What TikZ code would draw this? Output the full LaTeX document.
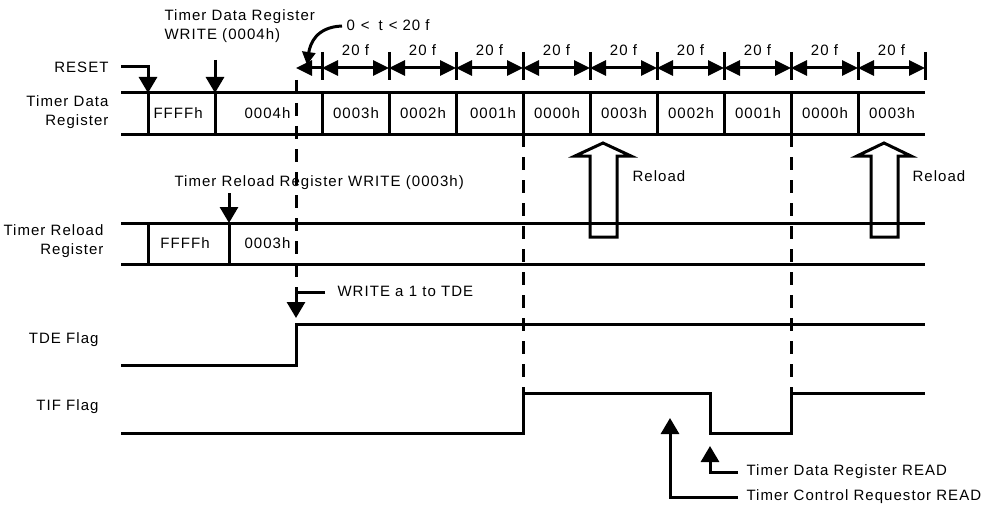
\documentclass[tikz,border=0pt]{standalone}
\usepackage{fontspec}
\setmainfont{Liberation Sans}[LetterSpace=7]
\usetikzlibrary{arrows.meta}
\begin{document}
\begin{tikzpicture}[x=1pt,y=-1pt,line width=3pt,
  lbl/.style={font=\fontsize{15pt}{19pt}\selectfont,inner sep=0pt},
  dimarrow/.style={{Triangle[length=16pt,width=15pt]}-{Triangle[length=16pt,width=15pt]}},
  evarrow/.style={-{Triangle[length=16pt,width=18pt]}},
  guide/.style={dash pattern=on 13pt off 10pt}]
\useasboundingbox (0,0) rectangle (987,508);

% ---------- labels on the left ----------
\node[lbl,anchor=east] (reset) at (110,67) {RESET};
\node[lbl,anchor=east,align=right] (tdr) at (110,112) {Timer Data\\Register};
\node[lbl,anchor=east,align=right] (trr) at (105,241) {Timer Reload\\Register};
\node[lbl,anchor=east] (tde) at (100,340) {TDE Flag};
\node[lbl,anchor=east] (tif) at (100,407) {TIF Flag};

% ---------- event labels ----------
\node[lbl,anchor=west,align=left] (tdrw) at (163,26) {Timer Data Register\\WRITE (0004h)};
\node[lbl,anchor=west] (tlabel) at (345,25) {0\hspace{6pt}<\hspace{9pt}t\hspace{6pt}<\hspace{5pt}20 f};
\node[lbl,anchor=west] (trrw) at (173,183) {Timer Reload Register WRITE (0003h)};
\node[lbl,anchor=west] (tdew) at (336,291) {WRITE a 1 to TDE};
\node[lbl,anchor=west] (tdrr) at (745,472) {Timer Data Register READ};
\node[lbl,anchor=west] (tcrr) at (745,497) {Timer Control Requestor READ};
\node[lbl,anchor=west] (rl1) at (631,176) {Reload};
\node[lbl,anchor=west] (rl2) at (911,176) {Reload};

% ---------- dashed guides ----------
\draw[guide] (296,80) -- (296,292);
\draw[guide] (523,134) -- (523,393);
\draw[guide] (791,134) -- (791,393);

% ---------- dimension row ----------
\foreach \x in {322,389,...,925} \draw (\x,52) -- (\x,80);
\foreach \a in {322,389,...,858} {
  \draw[dimarrow] (\a,68) -- (\a+67,68);
  \node[lbl] at (\a+33.5,50) {20 f};
}
\draw[-{Triangle[length=16pt,width=15pt]}] (322,68) -- (296,68);
\coordinate (tpt) at (307,65);
\draw[-{Triangle[length=13pt,width=13pt]}] (tlabel.west) ++(-3,1) .. controls (316,27) and (310,44) .. (tpt);

% ---------- Timer Data Register row ----------
\draw (121,93) -- (925,93);
\draw (121,134) -- (925,134);
\foreach \x in {148,215,322,389,456,523,590,657,724,791,858} \draw (\x,93) -- (\x,134);
\node[lbl,anchor=west] at (152,113) {FFFFh};
\node[lbl,anchor=east] at (292,113) {0004h};
\node[lbl] at (356,113) {0003h};
\node[lbl] at (423,113) {0002h};
\node[lbl] at (493,113) {0001h};
\node[lbl] at (557,113) {0000h};
\node[lbl] at (624,113) {0003h};
\node[lbl] at (691,113) {0002h};
\node[lbl] at (758,113) {0001h};
\node[lbl] at (825,113) {0000h};
\node[lbl] at (892,113) {0003h};

% event arrows onto the data register
\coordinate (resetTip) at (148,93);
\coordinate (tdrwTip) at (215,93);
\draw[evarrow] (121,67) -| (resetTip);
\draw[evarrow] (215,60) -- (tdrwTip);

% ---------- Reload block arrows ----------
\draw[line join=miter] (590,237) -- (590,156) -- (575,156) -- (603,143) -- (631,156) -- (617,156) -- (617,237) -- cycle;
\draw[line join=miter] (871,237) -- (871,156) -- (857,156) -- (884,143) -- (911,156) -- (898,156) -- (898,237) -- cycle;

% ---------- Timer Reload Register row ----------
\draw (121,223) -- (925,223);
\draw (121,264) -- (925,264);
\draw (148,223) -- (148,264);
\draw (229,223) -- (229,264);
\node[lbl] at (185,243) {FFFFh};
\node[lbl,anchor=west] at (243,243) {0003h};
\coordinate (trrwTip) at (229,223);
\draw[evarrow] (229,193) -- (trrwTip);

% ---------- TDE flag ----------
\draw (121,365) -- (296,365) -- (296,324) -- (925,324);
\coordinate (tdeTip) at (296,318);
\draw[evarrow] (325,292) -- (296,292) -- (tdeTip);

% ---------- TIF flag ----------
\draw (121,433) -- (523,433) -- (523,393) -- (710,393) -- (710,433) -- (791,433) -- (791,393) -- (925,393);
\coordinate (tdrrTip) at (710,446);
\coordinate (tcrrTip) at (670,418);
\draw[evarrow] (738,472) -- (710,472) -- (tdrrTip);
\draw[evarrow] (738,497) -- (670,497) -- (tcrrTip);
\end{tikzpicture}
\end{document}
